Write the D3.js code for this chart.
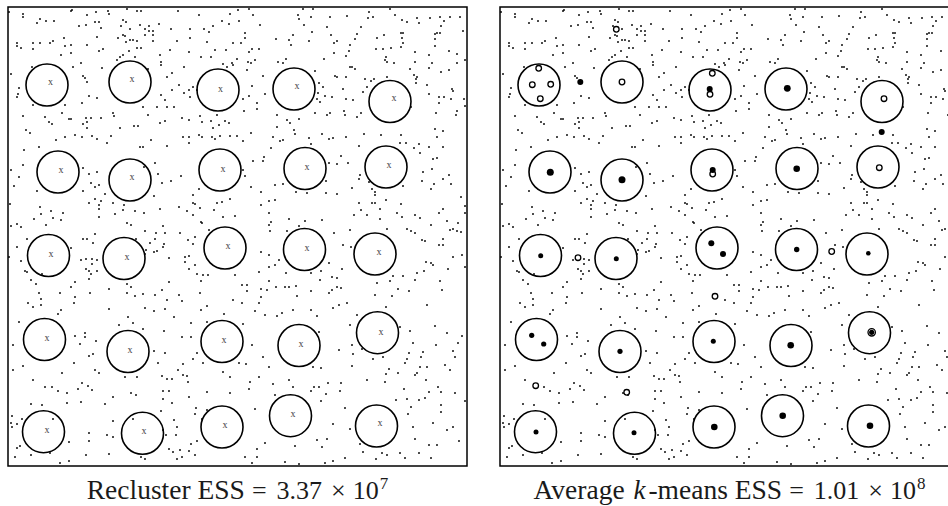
<!DOCTYPE html>
<html>
<head>
<meta charset="utf-8">
<script src="https://cdnjs.cloudflare.com/ajax/libs/d3/7.8.5/d3.min.js"></script>
<style>
  body { margin: 0; background: #fff; }
</style>
</head>
<body>
<script>
// sample points (the same sample is shown in both panels), field units
var points = [
  [9,12],[23,14],[23,17],[71,11],[72,10],[87,15],[96,12],[108,11],[109,14],[127,9],[137,11],[141,11],[178,11],[199,15],[230,14],[238,10],
  [37,23],[40,19],[46,21],[54,21],[79,26],[86,25],[95,22],[99,22],[101,28],[121,26],[123,20],[126,22],[130,29],[140,25],[145,29],[149,26],[149,31],[153,31],[153,35],[159,24],[171,29],[190,29],[204,29],[209,32],[213,26],[222,21],[229,24],[239,21],
  [17,43],[17,46],[21,48],[33,43],[33,49],[40,43],[50,43],[53,41],[64,38],[65,46],[71,45],[87,45],[97,37],[118,38],[123,35],[125,36],[126,42],[130,40],[133,40],[137,41],[137,48],[141,48],[145,35],[153,41],[170,50],[177,41],[190,38],[189,52],[207,42],[215,50],[226,50],[233,43],
  [61,55],[71,53],[99,51],[103,49],[117,60],[120,57],[123,55],[129,51],[135,57],[160,55],[161,62],[201,57],[211,57],[223,64],[227,67],[232,63],[237,59],
  [11,74],[32,67],[73,67],[81,63],[83,76],[85,78],[87,82],[102,68],[148,69],[161,65],[167,77],[172,73],[184,67],[193,87],[197,90],[233,65],
  [19,88],[17,97],[18,94],[89,96],[97,98],[82,103],[161,95],[165,100],[172,90],[179,85],[184,93],[189,90],[190,97],
  [33,105],[65,105],[23,116],[45,117],[49,122],[52,124],[62,113],[69,119],[71,119],[86,118],[91,118],[87,122],[83,124],[87,128],[101,118],[113,113],[114,116],[120,128],[134,126],[138,126],[143,107],[148,115],[157,107],[160,123],[165,121],[167,107],[174,107],[182,118],[189,120],[200,116],[202,122],[211,121],[213,128],[217,115],[219,125],[225,121],[229,123],
  [26,130],[30,133],[56,140],[65,137],[75,135],[82,137],[92,136],[97,139],[107,143],[111,136],[140,147],[143,147],[151,140],[167,146],[183,137],[189,137],[189,143],[199,135],[202,137],[212,137],[215,139],[220,136],[230,136],[237,136],
  [24,150],[39,147],
  [249,9],[253,15],[298,15],[303,9],[299,19],[311,17],[313,9],[330,17],[347,16],[369,12],[368,18],[373,17],[390,9],[395,15],[417,18],[419,23],[430,18],[440,17],[444,21],[450,17],[460,17],
  [260,25],[304,25],[312,32],[293,35],[289,40],[291,45],[276,39],[245,33],[245,38],[241,43],[252,49],[249,52],[259,49],[309,41],[327,27],[331,35],[334,43],[337,41],[334,53],[357,34],[361,27],[355,39],[350,45],[349,51],[346,56],[377,38],[384,35],[376,49],[383,49],[391,48],[401,33],[403,33],[402,38],[403,43],[401,47],[402,20],[407,22],[415,52],[435,34],[437,33],[440,33],[435,39],[441,26],[435,46],[449,51],[463,31],[457,54],
  [248,62],[247,70],[251,63],[255,60],[263,76],[278,62],[283,63],[286,59],[315,71],[324,59],[335,76],[337,77],[350,67],[352,67],[355,69],[346,77],[386,57],[385,60],[387,62],[394,63],[410,69],[415,62],[414,75],[416,79],[429,68],[429,55],[432,63],[441,72],[449,70],[457,63],[465,60],
  [252,86],[249,96],[243,99],[257,103],[257,109],[244,111],[265,94],[277,115],[287,120],[290,123],[299,119],[319,83],[323,87],[318,93],[317,99],[320,102],[325,96],[332,97],[327,115],[330,113],[315,113],[343,89],[346,99],[344,111],[345,115],[353,100],[357,117],[361,113],[363,92],[367,87],[365,79],[371,81],[374,79],[387,77],[411,107],[417,77],[416,83],[427,85],[429,94],[439,97],[444,97],[451,99],[452,89],[453,91],[457,111],[456,115],[464,99],[465,106],[439,103],[436,113],
  [251,133],[243,141],[273,137],[280,141],[283,140],[277,127],[294,130],[295,134],[309,138],[311,144],[322,134],[329,139],[333,138],[346,137],[359,146],[364,134],[381,135],[401,135],[406,143],[400,143],[414,148],[419,144],[429,147],[435,129],[443,131],[437,137],[443,147],[271,148],[264,157],[341,156],[433,159],[437,158],[420,153],
  [23,165],[11,170],[19,177],[14,186],[37,191],[10,204],[83,168],[89,174],[97,172],[83,191],[91,183],[95,187],[99,185],[105,194],[89,203],[95,199],[99,205],[99,209],[101,201],[99,217],[113,203],[115,214],[123,210],[124,205],[135,211],[144,213],[144,167],[155,163],[158,174],[162,183],[171,181],[181,176],[154,196],[160,209],[179,207],[187,211],[193,195],[193,203],[195,204],[199,189],[200,208],[214,210],[217,203],[222,202],[230,199],[223,217],[235,216],[193,215],[201,222],
  [40,207],[41,214],[51,211],[53,218],[63,213],[61,220],[34,219],[11,226],[17,224],[21,227],[46,225],[127,223],[131,225],[145,231],[156,233],[163,226],[165,233],[180,233],[202,223],[209,230],
  [83,239],[87,239],[95,234],[93,243],[136,239],[150,243],[155,239],[157,251],[164,244],[163,247],[154,252],[146,250],[145,254],[169,258],[188,240],[193,244],[195,237],[185,257],[189,256],[185,262],[195,265],[189,269],[197,274],[201,281],[203,275],[208,275],
  [17,247],[27,239],[9,257],[21,261],[25,271],[27,272],[31,280],[36,284],[42,274],[71,248],[81,260],[86,259],[92,259],[97,260],[92,264],[86,269],[89,271],[91,274],[97,271],[89,279],[71,287],[75,282],[90,293],[109,289],[127,284],[131,287],[127,293],[135,296],[143,294],[155,295],[162,290],[169,282],[179,295],[182,301],
  [39,293],[41,299],[60,293],[75,297],[74,303],[28,303],[33,307],[41,305],[61,310],[58,314],[109,309],[145,308],[154,311],[165,309],[167,300],[174,317],[200,293],[207,306],[201,310],[224,314],[233,300],[235,275],[128,317],
  [243,170],[245,176],[251,187],[253,161],[263,161],[275,185],[283,184],[296,192],[307,193],[326,193],[337,194],[326,181],[329,163],[337,164],[348,163],[352,188],[359,179],[360,175],[369,182],[372,189],[375,192],[375,195],[359,203],[361,210],[354,215],[367,215],[372,203],[375,203],[380,209],[386,200],[403,186],[401,204],[397,213],[402,217],[423,172],[422,181],[432,169],[434,184],[431,189],[443,179],[449,175],[451,184],[461,197],[465,206],[465,213],[439,213],[443,209],[415,215],[420,218],[380,219],[387,229],[431,225],[447,221],[458,223],[450,230],[453,229],[457,231],[461,232],[407,229],[411,231],[415,233],[422,240],[425,241],[439,245],[443,245],[443,239],[462,255],[453,257],[465,267],[448,269],[426,262],[431,263],[433,265],[424,271],[417,273],[415,280],[403,276],[393,276],[390,281],[377,283],[398,289],[409,291],[440,281],[442,290],
  [261,192],[269,201],[275,200],[261,205],[269,213],[271,222],[269,225],[270,231],[289,219],[305,221],[322,220],[287,231],[299,226],[334,233],[350,230],[343,245],[351,247],
  [261,252],[269,255],[279,260],[275,265],[269,267],[259,272],[286,273],[311,273],[321,271],[320,280],[332,277],[337,278],[342,269],[329,263],
  [242,285],[247,285],[247,291],[261,289],[261,297],[269,281],[267,290],[276,287],[285,287],[289,287],[296,286],[297,296],[311,291],[329,293],[332,290],[337,287],[341,288],
  [242,303],[259,303],[255,311],[265,315],[277,316],[282,313],[293,310],[311,310],[317,316],[333,308],[339,305],[347,303],[357,315],[375,295],[386,307],[392,296],[427,305],
  [19,322],[13,345],[13,370],[23,366],[33,380],[62,373],[75,336],[80,344],[85,333],[85,337],[96,341],[93,354],[89,356],[74,363],[95,370],[99,373],[119,325],[133,323],[143,329],[154,351],[158,363],[165,353],[164,331],[182,337],[191,337],[191,323],[207,322],[197,353],[193,359],[183,364],[178,370],[183,375],[187,376],[172,379],[167,379],[162,376],[203,363],[223,372],[230,377],[239,363],
  [45,387],[52,387],[58,391],[67,393],[78,389],[82,383],[88,386],[92,390],[137,377],[125,377],[131,393],[136,395],[163,391],[169,391],[163,399],[188,382],[189,397],[207,392],[230,393],
  [67,403],[81,402],[105,404],[113,397],[42,405],[31,404],[161,411],[172,403],[196,408],[195,414],
  [12,416],[11,423],[12,427],[17,424],[22,419],[20,446],[17,448],[15,457],[31,455],[53,419],[50,453],[69,442],[60,463],[69,461],[86,455],[89,433],[89,441],[107,435],[113,437],[109,454],[113,421],[133,419],[141,457],[145,459],[163,430],[166,435],[174,420],[177,427],[176,435],[169,449],[173,452],[180,450],[177,459],[182,457],[189,451],[191,444],[197,441],[195,455],[202,419],[207,410],
  [243,324],[252,345],[263,357],[269,367],[246,364],[250,382],[249,389],[259,377],[273,384],[275,395],[289,380],[293,387],[311,391],[314,387],[319,387],[328,383],[321,401],[326,394],[341,383],[340,391],[319,332],[321,368],[313,367],[339,350],[350,325],[352,345],[353,354],[362,349],[373,359],[383,357],[400,327],[410,331],[413,343],[423,352],[421,357],[409,353],[407,359],[405,363],[420,367],[417,373],[415,375],[426,380],[427,367],[436,345],[435,326],[447,333],[445,365],[450,370],[455,357],[458,343],[462,336],[453,351],[352,366],[367,380],[385,382],[386,374],[389,369],[398,373],[429,392],[425,398],[438,387],[441,392],[455,393],[465,401],[404,389],[396,400],[407,399],[411,407],[419,400],[441,405],[441,412],[408,414],[413,427],[433,423],[447,430],[453,427],[415,439],[429,445],[437,445],[459,441],[400,453],[405,458],[419,453],[431,458],
  [255,409],[265,443],[257,449],[257,457],[245,457],[252,463],[285,462],[299,464],[295,446],[317,440],[322,447],[327,439],[325,463],[333,461],[345,458],[333,424],[345,408],[350,429],[360,444],[363,452],[382,453],[387,455],[376,459]
];

// reclustered centres (circles) and the "x" marks
var circleX = [47,130,218,294,390, 58,130,220,305,386, 48.5,124,225,304.5,375, 44.5,128,222,299,377.5, 43.5,142.5,222,290.5,376.5];
var circleY = [85,82,90,89,101.5, 172,180,170,168.5,167, 255.5,258.5,248,249.5,254, 339.5,351.5,341.5,345.5,332.7, 431.7,433.3,427,415.7,426];
var markX = [50.5,132,220.5,297,394, 61,132,223,307,389, 51,127,228,307,379, 47,130,224,301,381, 47,144,225,293,380];
var markY = [81,78,88,85,97, 169,176,168,166,164, 253,256,245,247,251, 337,349,339,343,331, 429,430,424,413,422];

// average k-means centres: solid and hollow
var solidX = [88.3,217.7,295.3,389.7,58.3,130,220.7,304.7,48.7,124.3,219.3,231,304.7,376.3,39.7,51.7,128,221.3,298.7,379.7,44,142,222.3,290.7,378];
var solidY = [82,89,88.3,132,172.3,179.7,170,168.7,255.7,258.7,243.3,254,249.5,253.3,335.3,344,351.3,341.3,345.3,332.3,432,432.7,427,415.7,425.7];
var solidR = [3,3,3.4,3,3.5,3.5,3,3.3,2.5,2.5,3,3,2.7,2.3,2.6,2.6,2.6,2.5,3.3,2.6,2.5,2.5,3.3,3.3,3.3];
var hollowX = [46.7,40.3,58.7,48.3,130,124.3,220.3,218,392,387.3,220.7,86,339.7,223,43.7,134.7,379.7];
var hollowY = [68.3,84.7,84.3,98.7,82,29.3,73.3,94.3,98.7,167.7,174,257.7,251.5,296.3,385.7,392.3,332.3];
var hollowR = [2.8,2.8,2.8,2.8,2.8,2.8,2.8,2.8,2.8,2.8,2.8,2.8,2.8,2.8,2.8,2.8,3.7];

// captions
var captionWords = ["Recluster ESS", "-means ESS"];
var essValues = ["3.37", "1.01"];
var essExponents = ["7", "8"];

var svgWidth = 948;
var svgHeight = 506;
var panelSize = 459;
var panelLeft = [8, 500];
var panelTop = 7;
var clusterRadius = 21;

var svg = d3.select("body")
  .append("svg")
  .attr("width", svgWidth)
  .attr("height", svgHeight)
  .style("display", "block");

svg.append("rect")
  .attr("width", svgWidth)
  .attr("height", svgHeight)
  .attr("fill", "#fff");

// field units -> panel pixels
var xScale = d3.scaleLinear().domain([8, 467]).range([0, panelSize]);
var yScale = d3.scaleLinear().domain([7, 466]).range([0, panelSize]);
var rScale = d3.scaleLinear().domain([0, 459]).range([0, panelSize]);

function drawPanel(idx) {
  var g = svg.append("g")
    .attr("transform", `translate(${panelLeft[idx]}, ${panelTop})`);

  g.selectAll(".pt")
    .data(points)
    .enter()
    .append("circle")
    .attr("class", "pt")
    .attr("cx", d => xScale(d[0]))
    .attr("cy", d => yScale(d[1]))
    .attr("r", 0.95)
    .attr("fill", "#000");

  g.selectAll(".ring")
    .data(circleX)
    .enter()
    .append("circle")
    .attr("class", "ring")
    .attr("cx", d => xScale(d))
    .attr("cy", (d, i) => yScale(circleY[i]))
    .attr("r", rScale(clusterRadius))
    .attr("fill", "none")
    .attr("stroke", "#000")
    .attr("stroke-width", 1.6);

  if (idx === 0) {
    g.selectAll(".mark")
      .data(markX)
      .enter()
      .append("text")
      .attr("class", "mark")
      .attr("x", d => xScale(d))
      .attr("y", (d, i) => yScale(markY[i]))
      .attr("text-anchor", "middle")
      .attr("dominant-baseline", "central")
      .attr("font-family", "Liberation Serif, serif")
      .attr("font-size", 10)
      .attr("fill", "#444")
      .text("x");
  } else {
    g.selectAll(".hollow")
      .data(hollowX)
      .enter()
      .append("circle")
      .attr("class", "hollow")
      .attr("cx", d => xScale(d))
      .attr("cy", (d, i) => yScale(hollowY[i]))
      .attr("r", (d, i) => rScale(hollowR[i]))
      .attr("fill", "#fff")
      .attr("stroke", "#000")
      .attr("stroke-width", 1.3);

    g.selectAll(".solid")
      .data(solidX)
      .enter()
      .append("circle")
      .attr("class", "solid")
      .attr("cx", d => xScale(d))
      .attr("cy", (d, i) => yScale(solidY[i]))
      .attr("r", (d, i) => rScale(solidR[i]))
      .attr("fill", "#000");
  }

  g.append("rect")
    .attr("x", 0)
    .attr("y", 0)
    .attr("width", panelSize)
    .attr("height", panelSize)
    .attr("fill", "none")
    .attr("stroke", "#000")
    .attr("stroke-width", 1.5);

  // caption under the panel (words upright, maths in a second size)
  var cap = svg.append("text")
    .attr("x", panelLeft[idx] + panelSize / 2)
    .attr("y", 499)
    .attr("text-anchor", "middle")
    .attr("font-family", "Liberation Serif, serif")
    .attr("fill", "#1a1a1a");

  if (idx === 1) {
    cap.append("tspan").attr("font-size", 27.5).text("Average ");
    cap.append("tspan").attr("font-size", 27).attr("font-style", "italic").attr("dx", 2).text("k");
  }
  cap.append("tspan").attr("font-size", 27.5).attr("dx", idx === 1 ? 3 : 0).text(captionWords[idx]);
  cap.append("tspan").attr("font-size", 26).attr("dx", 7).text("=");
  cap.append("tspan").attr("font-size", 26).attr("dx", 10).text(essValues[idx]);
  cap.append("tspan").attr("font-size", 26).attr("dx", 9).text("\u00d7");
  cap.append("tspan").attr("font-size", 26).attr("dx", 7).text("10");
  cap.append("tspan").attr("font-size", 17).attr("dx", 1).attr("dy", -10).text(essExponents[idx]);
}

drawPanel(0);
drawPanel(1);
</script>
</body>
</html>
